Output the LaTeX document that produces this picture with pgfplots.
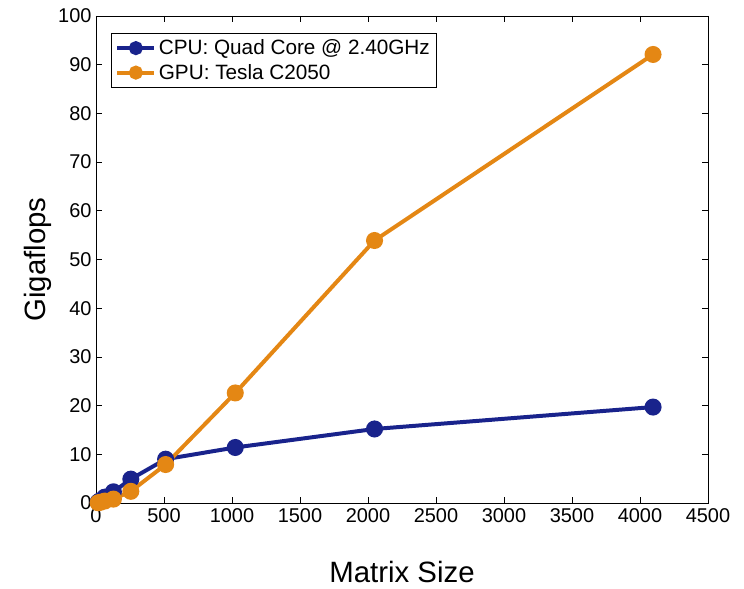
\documentclass[border=0pt]{standalone}
\usepackage{pgfplots}
\pgfplotsset{compat=1.18}
\usepackage{fontspec}
\setmainfont{Liberation Sans}
\definecolor{cpublue}{RGB}{25,35,140}
\definecolor{gpuorange}{RGB}{228,135,20}
\begin{document}
\begin{tikzpicture}
\begin{axis}[
  scale only axis,
  width=612bp, height=487bp,
  xmin=0, xmax=4500, ymin=0, ymax=100,
  xtick={0,500,...,4500},
  ytick={0,10,...,100},
  tick align=inside,
  major tick length=6bp,
  tick style={black, line width=0.8pt},
  axis line style={line width=0.8pt},
  /pgf/number format/assume math mode=true,
  /pgf/number format/1000 sep={},
  tick label style={font=\fontsize{20}{24}\selectfont},
  xticklabel style={yshift=-2bp},
  yticklabel style={xshift=-1bp},
  xlabel={Matrix Size},
  ylabel={Gigaflops},
  label style={font=\fontsize{29.5}{34}\selectfont},
  xlabel style={yshift=-32bp},
  ylabel style={yshift=0bp},
  legend cell align=left,
  legend style={font=\fontsize{20.8}{25}\selectfont, draw=black, line width=0.8pt,
    at={(rel axis cs:0,1)}, xshift=15bp, yshift=-17bp, anchor=north west,
    inner sep=4pt, row sep=3pt, nodes={inner sep=2.5pt}},
  legend image code/.code={
    \draw[#1, line width=4pt] (0cm,0cm) -- (37bp,0cm);
    \fill[#1] (18.5bp,0cm) circle (5bp);
  },
  every axis plot/.append style={line width=4pt, mark=*, mark size=6.5bp}
]
\addplot[color=cpublue, mark options={fill=cpublue, draw=cpublue}] coordinates {
  (16,0.2) (32,0.5) (64,1.2) (128,2.3) (256,4.9) (512,9.0) (1024,11.4) (2048,15.2) (4096,19.7)
};
\addlegendentry{CPU: Quad Core @ 2.40GHz}
\addplot[color=gpuorange, mark options={fill=gpuorange, draw=gpuorange}] coordinates {
  (16,0.05) (32,0.15) (64,0.4) (128,0.8) (256,2.4) (512,7.9) (1024,22.6) (2048,53.9) (4096,92.1)
};
\addlegendentry{GPU: Tesla C2050}
\end{axis}
\pgfresetboundingbox
\path ([shift={(-96bp,-86bp)}]current axis.south west) rectangle ([shift={(36bp,16bp)}]current axis.north east);
\end{tikzpicture}
\end{document}
